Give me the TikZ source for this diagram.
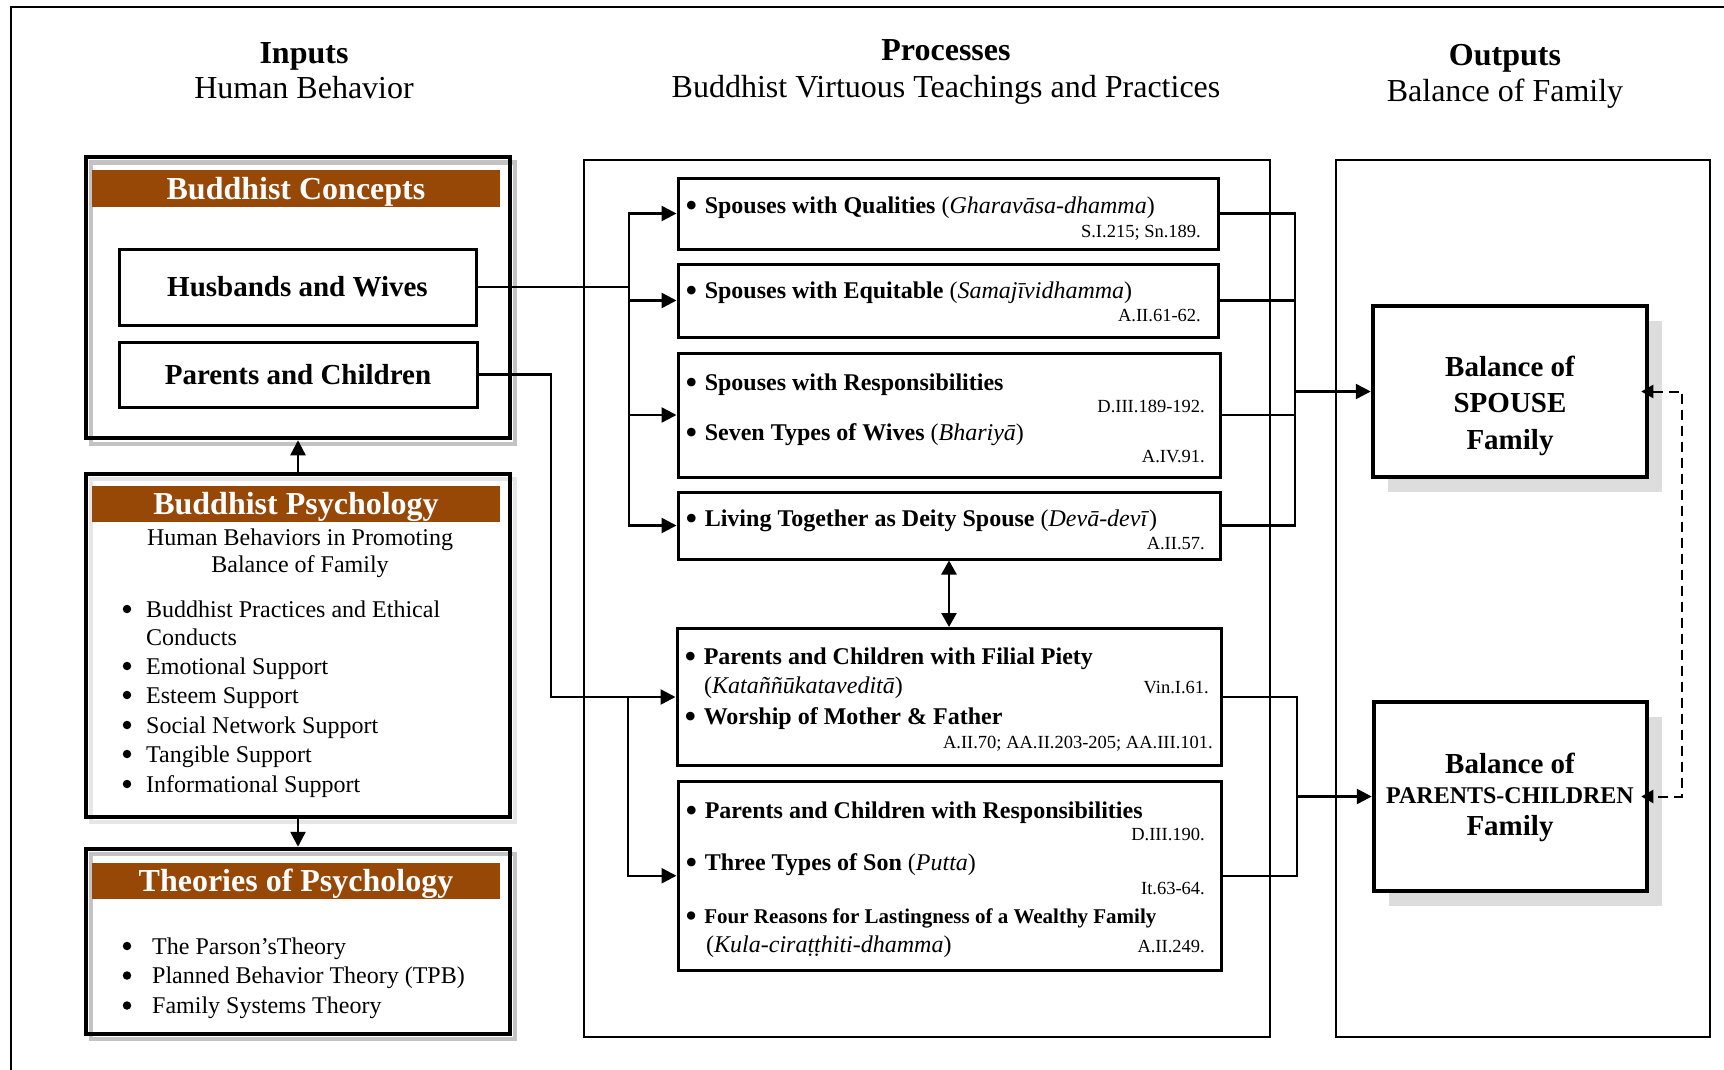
\documentclass[tikz,border=0pt]{standalone}
\usepackage{fontspec}
\setmainfont{Liberation Serif}
\usetikzlibrary{arrows.meta,shadows}
\definecolor{brownbar}{RGB}{151,71,6}
\definecolor{shdark}{RGB}{195,195,195}
\definecolor{shlight}{RGB}{230,230,230}
\definecolor{outsh}{RGB}{221,221,221}
\tikzset{
  conn/.style={line width=2.5pt, line cap=rect},
  arr/.style={line width=2.5pt, line cap=rect, -{Triangle[length=15pt,width=15pt]}},
  darr/.style={line width=2.5pt, {Triangle[length=14pt,width=15pt]}-{Triangle[length=14pt,width=15pt]}},
  dasharr/.style={line width=2pt, dash pattern=on 10pt off 6pt, {Triangle[length=12pt,width=13pt]}-{Triangle[length=12pt,width=13pt]}},
  bigbox/.style={draw, line width=4.5pt, inner sep=0pt},
  pbox/.style={draw, line width=3pt, inner sep=0pt},
  colbox/.style={draw, line width=2.5pt, inner sep=0pt},
  hdr/.style={fill=brownbar, text=white, inner sep=0pt, minimum width=408pt, minimum height=36pt, font=\fontsize{32}{38}\selectfont\bfseries, text height=21pt, text depth=0pt},
  inbox/.style={pbox, font=\fontsize{29}{35}\selectfont\bfseries, text height=19pt, text depth=0pt},
  ttlb/.style={anchor=base, font=\fontsize{32}{38}\selectfont\bfseries, inner sep=0pt},
  ttlr/.style={anchor=base, font=\fontsize{32}{38}\selectfont, inner sep=0pt},
  body/.style={anchor=base west, font=\fontsize{24}{29}\selectfont, inner sep=0pt},
  bodyc/.style={anchor=base, font=\fontsize{24}{29}\selectfont, inner sep=0pt},
  refr/.style={anchor=base east, font=\fontsize{18.5}{22}\selectfont, inner sep=0pt},
  outt/.style={anchor=base, font=\fontsize{29}{35}\selectfont\bfseries, inner sep=0pt},
  dot/.style={circle, fill=black, inner sep=0pt, minimum size=8.5pt},
}
\newcommand{\bul}{\raisebox{-4pt}{\scalebox{1.5}{•}}\hspace{7pt}}
\begin{document}
\begin{tikzpicture}[x=1pt,y=-1pt]
\useasboundingbox (0,0) rectangle (1724,1070);
\fill[white] (0,0) rectangle (1724,1070);
\draw[line width=1.5pt] (1760,7) -- (11,7) -- (11,1100);

% ---------- titles
\node[ttlb] (tin) at (304,63.5) {Inputs};
\node[ttlr] (tin2) at (304,98.5) {Human Behavior};
\node[ttlb] (tpr) at (946,61) {Processes};
\node[ttlr] (tpr2) at (946,97.5) {Buddhist Virtuous Teachings and Practices};
\node[ttlb] (tout) at (1505,65.5) {Outputs};
\node[ttlr] (tout2) at (1505,101.5) {Balance of Family};

% ---------- inputs column
\draw[shdark, line width=4pt] (91,162.5) rectangle (515,443.5);
\node[bigbox, minimum width=424pt, minimum height=281pt] (con) at (298,297.5) {};
\node[hdr, minimum height=37pt] (conh) at (296,188.5) {Buddhist Concepts};
\node[inbox, minimum width=357pt, minimum height=76pt] (hw) at (297.5,287) {Husbands and Wives};
\node[inbox, minimum width=358pt, minimum height=65pt] (pc) at (298,374.5) {Parents and Children};

\draw[shlight, line width=4pt] (91,479) rectangle (515,822);
\node[bigbox, minimum width=424pt, minimum height=343pt] (psy) at (298,645.5) {};
\node[hdr] (psyh) at (296,504) {Buddhist Psychology};
\node[bodyc] (psy1) at (300,545) {Human Behaviors in Promoting};
\node[bodyc] (psy2) at (300,572) {Balance of Family};
\node[dot] (pb1) at (127,609) {};
\node[body] (pt1) at (146,617) {Buddhist Practices and Ethical};
\node[body] (pt1b) at (146,645) {Conducts};
\node[dot] (pb2) at (127,666) {};
\node[body] (pt2) at (146,674) {Emotional Support};
\node[dot] (pb3) at (127,695) {};
\node[body] (pt3) at (146,703) {Esteem Support};
\node[dot] (pb4) at (127,725) {};
\node[body] (pt4) at (146,733) {Social Network Support};
\node[dot] (pb5) at (127,754) {};
\node[body] (pt5) at (146,762) {Tangible Support};
\node[dot] (pb6) at (127,784) {};
\node[body] (pt6) at (146,792) {Informational Support};

\draw[shdark, line width=4pt] (91,854) rectangle (515,1039);
\node[bigbox, minimum width=424pt, minimum height=185pt] (th) at (298,941.5) {};
\node[hdr] (thh) at (296,880.5) {Theories of Psychology};
\node[dot] (tb1) at (127,946) {};
\node[body] (tt1) at (152,954) {The Parson’sTheory};
\node[dot] (tb2) at (127,975.5) {};
\node[body] (tt2) at (152,983.5) {Planned Behavior Theory (TPB)};
\node[dot] (tb3) at (127,1005.5) {};
\node[body] (tt3) at (152,1013.5) {Family Systems Theory};

\draw[arr] (psy.north) -- (con.south);
\draw[arr] (psy.south) -- (th.north);

% ---------- processes column
\node[colbox, minimum width=686pt, minimum height=877pt] (proc) at (927,598.5) {};
\node[pbox, minimum width=540pt, minimum height=71pt] (p1) at (948,213.5) {};
\node[pbox, minimum width=540pt, minimum height=73pt] (p2) at (948,300.5) {};
\node[pbox, minimum width=542pt, minimum height=124pt] (p3) at (949,415) {};
\node[pbox, minimum width=542pt, minimum height=67pt] (p4) at (949,525.5) {};
\node[pbox, minimum width=544pt, minimum height=137pt] (p5) at (949,697) {};
\node[pbox, minimum width=543pt, minimum height=188.5pt] (p6) at (949.5,875.75) {};

\node[body] (p1a) at (685,213) {\bul\textbf{Spouses with Qualities} (\textit{Gharavāsa-dhamma})};
\node[refr] (p1r) at (1201,237) {S.I.215; Sn.189.};
\node[body] (p2a) at (685,298) {\bul\textbf{Spouses with Equitable} (\textit{Samajīvidhamma})};
\node[refr] (p2r) at (1201,321) {A.II.61-62.};
\node[body] (p3a) at (685,390) {\bul\textbf{Spouses with Responsibilities}};
\node[refr] (p3r) at (1205,412) {D.III.189-192.};
\node[body] (p3b) at (685,440) {\bul\textbf{Seven Types of Wives} (\textit{Bhariyā})};
\node[refr] (p3s) at (1205,462) {A.IV.91.};
\node[body] (p4a) at (685,526) {\bul\textbf{Living Together as Deity Spouse} (\textit{Devā-devī})};
\node[refr] (p4r) at (1205,549) {A.II.57.};
\node[body] (p5a) at (684,664.5) {\bul\textbf{Parents and Children with Filial Piety}};
\node[body] (p5b) at (704,693) {(\textit{Kataññūkataveditā})};
\node[refr] (p5r) at (1209,693) {Vin.I.61.};
\node[body] (p5c) at (684,724) {\bul\textbf{Worship of Mother \& Father}};
\node[refr] (p5s) at (1213,748) {A.II.70; AA.II.203-205; AA.III.101.};
\node[body] (p6a) at (685,818) {\bul\textbf{Parents and Children with Responsibilities}};
\node[refr] (p6r) at (1205,840.6) {D.III.190.};
\node[body] (p6b) at (685,870.6) {\bul\textbf{Three Types of Son} (\textit{Putta})};
\node[refr] (p6s) at (1205,894) {It.63-64.};
\node[body, font=\fontsize{21}{25}\selectfont] (p6c) at (685,923.7) {\raisebox{-4pt}{\scalebox{1.65}{•}}\hspace{7pt}\textbf{Four Reasons for Lastingness of a Wealthy Family}};
\node[body] (p6d) at (706,952.7) {(\textit{Kula-ciraṭṭhiti-dhamma})};
\node[refr] (p6t) at (1205,952.7) {A.II.249.};

% ---------- outputs column
\node[colbox, minimum width=374pt, minimum height=877pt] (outb) at (1523,598.5) {};
\node[bigbox, fill=white, minimum width=274pt, minimum height=171pt,
      drop shadow={shadow xshift=15pt, shadow yshift=-15pt, fill=outsh, opacity=1}] (sp) at (1510,391.5) {};
\node[outt] (sp1) at (1510,376.5) {Balance of};
\node[outt] (sp2) at (1510,412.5) {SPOUSE};
\node[outt] (sp3) at (1510,449.5) {Family};
\node[bigbox, fill=white, minimum width=273pt, minimum height=189pt,
      drop shadow={shadow xshift=15pt, shadow yshift=-15pt, fill=outsh, opacity=1}] (pcf) at (1510.5,796.5) {};
\node[outt] (pcf1) at (1510,773.5) {Balance of};
\node[outt, font=\fontsize{24}{29}\selectfont\bfseries] (pcf2) at (1510,803.5) {PARENTS-CHILDREN};
\node[outt] (pcf3) at (1510,835.5) {Family};

% ---------- connectors
\coordinate (busL) at (629,0);
\coordinate (busP) at (551,0);
\coordinate (busL2) at (628,0);
\coordinate (busR) at (1295,0);
\coordinate (busR2) at (1297,0);
\coordinate (dashX) at (1682,0);

\draw[conn] (hw.east) -- (hw.east -| busL);
\draw[conn] (busL |- p1.west) -- (busL |- p4.west);
\foreach \p in {p1,p2,p3,p4} \draw[arr] (busL |- \p.west) -- (\p.west);

\draw[arr] (pc.east) -- (pc.east -| busP) -- (busP |- p5.west) -- (p5.west);
\draw[arr] (busL2 |- p5.west) -- (busL2 |- p6.west) -- (p6.west);

\foreach \p in {p1,p2,p3,p4} \draw[conn] (\p.east) -- (\p.east -| busR);
\draw[conn] (busR |- p1.east) -- (busR |- p4.east);
\draw[arr] (busR |- sp.west) -- (sp.west);
\foreach \p in {p5,p6} \draw[conn] (\p.east) -- (\p.east -| busR2);
\draw[conn] (busR2 |- p5.east) -- (busR2 |- p6.east);
\draw[arr] (busR2 |- pcf.west) -- (pcf.west);

\draw[darr] (p4.south) -- (p5.north);
\draw[dasharr, shorten <=-8pt, shorten >=-8pt] (sp.east) -- (sp.east -| dashX) -- (dashX |- pcf.east) -- (pcf.east);
\end{tikzpicture}
\end{document}
